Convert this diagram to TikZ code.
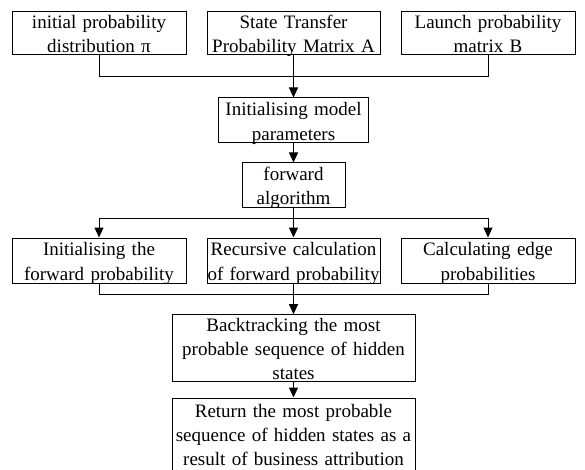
\documentclass[tikz,border=0pt]{standalone}
\usepackage{fontspec}
\setmainfont{Liberation Serif}
\usetikzlibrary{arrows.meta}

\begin{document}
\begin{tikzpicture}[x=1pt, y=-1pt,
    stage/.style={rectangle, draw, line width=1pt, align=center, inner xsep=0pt, inner ysep=0pt,
      text height=16.5pt, text depth=25.8pt, font=\fontsize{19}{24.3}\selectfont},
    tall/.style={text depth=50.1pt},
    flow/.style={-{Triangle[length=10pt,width=9pt]}, line width=1pt},
    link/.style={line width=1pt}]
                \useasboundingbox (0,0) rectangle (585,470);

                % Model inputs
                \node[stage, text width=174pt, minimum height=42pt] (pi) at (99,33) {initial probability\\distribution π};
                \node[stage, text width=173pt, minimum height=42pt] (A) at (293.5,33) {State Transfer\\Probability Matrix A};
                \node[stage, text width=174pt, minimum height=42pt] (B) at (488,33) {Launch probability\\matrix B};

                % Setup and forward pass
                \node[stage, text width=150pt, minimum height=45pt] (init) at (293.5,120.5) {Initialising model\\parameters};
                \node[stage, text width=103pt, minimum height=44pt] (fwd) at (293.5,185) {forward\\algorithm};

                % Forward algorithm steps
                \node[stage, text width=174pt, minimum height=45pt] (f1) at (99,260.5) {Initialising the\\forward probability};
                \node[stage, text width=173pt, minimum height=45pt] (f2) at (293.5,260.5) {Recursive calculation\\of forward probability};
                \node[stage, text width=174pt, minimum height=45pt] (f3) at (488,260.5) {Calculating edge\\probabilities};

                % Decoding and result
                \node[stage, tall, text width=243pt, minimum height=66pt] (back) at (293.5,348) {Backtracking the most\\probable sequence of hidden\\states};
                \node[stage, text width=243pt, minimum height=76pt, text height=14.5pt, text depth=52.1pt] (ret) at (293.5,436) {Return the most probable\\sequence of hidden states as a\\result of business attribution};

                % Junction points
                \coordinate (j1) at (293.5,77);
                \coordinate (j2) at (293.5,218);
                \coordinate (j3) at (293.5,294);

                % Connectors
                \draw[link] (pi.south) |- (j1);
                \draw[link] (B.south) |- (j1);
                \draw[flow] (A) -- (init);
                \draw[flow] (init) -- (fwd);
                \draw[flow] (fwd) -- (f2);
                \draw[flow] (j2) -| (f1.north);
                \draw[flow] (j2) -| (f3.north);
                \draw[link] (f1.south) |- (j3);
                \draw[link] (f3.south) |- (j3);
                \draw[flow] (f2) -- (back);
                \draw[flow] (back) -- (ret);
            \end{tikzpicture}
\end{document}
